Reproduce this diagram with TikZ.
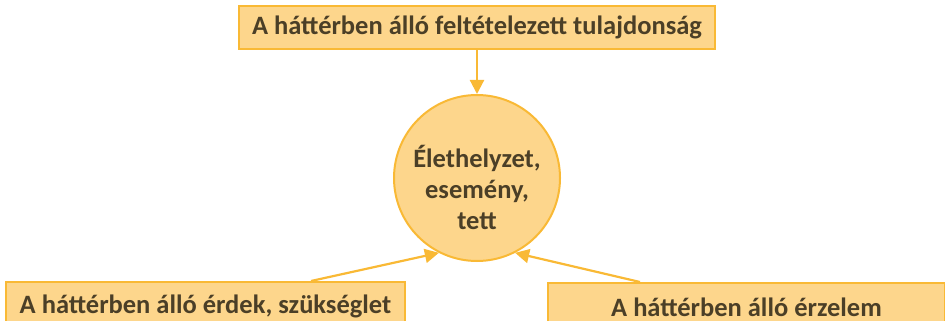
\documentclass[tikz,border=0pt]{standalone}
\usepackage{fontspec}
\setmainfont{Carlito}
\usetikzlibrary{arrows.meta}
\definecolor{boxborder}{HTML}{F9B935}
\definecolor{boxfill}{HTML}{FDD68C}
\definecolor{txt}{HTML}{4B3F27}
\tikzset{
  labelbox/.style={draw=boxborder, fill=boxfill, line width=2pt, text=txt,
    font=\fontsize{26.5}{30}\selectfont\bfseries, inner sep=0pt, anchor=north west},
  conn/.style={draw=boxborder, line width=2.2pt, -{Triangle[length=14pt,width=14pt]}}
}
\begin{document}
\begin{tikzpicture}[x=1pt,y=-1pt]
\useasboundingbox (0,0) rectangle (945,321);
\clip (0,0) rectangle (945,321);
\node[labelbox, minimum width=476pt, minimum height=43pt] (top) at (238,5) {A háttérben álló feltételezett tulajdonság};
\node[draw=boxborder, fill=boxfill, line width=2pt, circle, minimum size=166pt, inner sep=0pt] (c) at (477,178) {};
\node[text=txt, font=\fontsize{26.5}{31}\selectfont\bfseries, align=center, inner sep=0pt] (ct) at (477,187)
  {Élethelyzet,\\esemény,\\tett};
\node[labelbox, minimum width=399pt, minimum height=48pt] (bl) at (5,281) {A háttérben álló érdek, szükséglet};
\node[labelbox, minimum width=397pt, minimum height=48pt] (br) at (547,282) {A háttérben álló érzelem};
\coordinate (blo) at (311,281);
\coordinate (bro) at (640,282);
\draw[conn] (top.south) -- (c.north);
\draw[conn] (blo) -- (c.243);
\draw[conn] (bro) -- (c.297);
\end{tikzpicture}
\end{document}
